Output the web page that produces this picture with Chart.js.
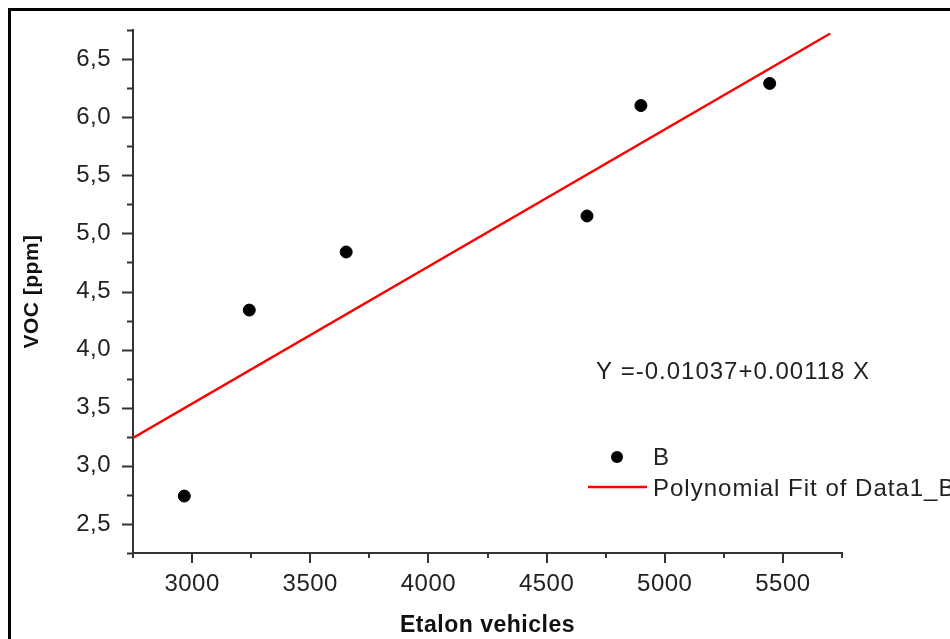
<!DOCTYPE html>
<html>
<head>
<meta charset="utf-8">
<script src="https://cdn.jsdelivr.net/npm/chart.js@4/dist/chart.umd.min.js"></script>
<style>
    html, body { margin: 0; padding: 0; background: #fff; }
    #wrap { width: 950px; height: 639px; position: relative; }
</style>
</head>
<body>
<div id="wrap"><canvas id="chart" width="950" height="639"></canvas></div>
<script>
// measured points (Etalon vehicles vs VOC)
const vehicles = [2967, 3242, 3652, 4671, 4899, 5444];
const voc = [2.74, 4.34, 4.84, 5.15, 6.10, 6.29];
// fitted line end points
const fitX = [2750, 5700];
const fitY = [3.24, 6.72];

const xTitle = "Etalon vehicles";
const yTitle = "VOC [ppm]";
const equation = "Y =-0.01037+0.00118 X";
const legendLabels = ["B", "Polynomial Fit of Data1_B"];

const font = "'Liberation Sans', Arial, sans-serif";

// the original text is a little wider than Liberation Sans, so spread it a bit
const spacing = {
    id: "spacing",
    beforeDraw(chart) { chart.ctx.letterSpacing = "0.5px"; },
    afterDraw(chart) { chart.ctx.letterSpacing = "0px"; }
};

// frame + tick marks + equation + legend
const extras = {
    id: "extras",
    afterDraw(chart) {
        const ctx = chart.ctx;
        const area = chart.chartArea;
        const xs = chart.scales.x;
        const ys = chart.scales.y;
        ctx.save();

        // outer frame (only top and left visible)
        ctx.strokeStyle = "#000";
        ctx.lineWidth = 3;
        ctx.beginPath();
        ctx.moveTo(9.5, 639);
        ctx.lineTo(9.5, 9.5);
        ctx.lineTo(950, 9.5);
        ctx.stroke();

        // tick marks
        ctx.strokeStyle = "#333";
        ctx.lineWidth = 2;
        ctx.beginPath();
        ys.ticks.forEach(t => {
            const py = Math.round(ys.getPixelForValue(t.value)) + 0.5;
            const major = Math.abs(t.value * 2 - Math.round(t.value * 2)) < 1e-6;
            ctx.moveTo(area.left, py);
            ctx.lineTo(area.left - (major ? 11 : 6), py);
        });
        xs.ticks.forEach(t => {
            const px = Math.round(xs.getPixelForValue(t.value));
            const major = t.value % 500 === 0;
            ctx.moveTo(px, area.bottom);
            ctx.lineTo(px, area.bottom + (major ? 10 : 5));
        });
        ctx.stroke();

        // equation
        ctx.letterSpacing = "1px";
        ctx.fillStyle = "#222";
        ctx.font = "24px " + font;
        ctx.textBaseline = "middle";
        ctx.textAlign = "left";
        ctx.fillText(equation, area.left + 463, 372);

        // legend
        ctx.fillStyle = "#000";
        ctx.beginPath();
        ctx.arc(617, 457, 6, 0, Math.PI * 2);
        ctx.fill();
        ctx.fillStyle = "#222";
        ctx.fillText(legendLabels[0], 653, 458);
        ctx.strokeStyle = "#ff0000";
        ctx.lineWidth = 2.5;
        ctx.beginPath();
        ctx.moveTo(588, 487);
        ctx.lineTo(647, 487);
        ctx.stroke();
        ctx.fillText(legendLabels[1], 653, 489);
        ctx.restore();
    }
};

new Chart(document.getElementById("chart"), {
    type: "scatter",
    data: {
        datasets: [{
            label: legendLabels[0],
            data: vehicles.map((v, i) => ({ x: v, y: voc[i] })),
            backgroundColor: "#000",
            borderColor: "#000",
            pointRadius: 6,
            pointHoverRadius: 6,
            order: 1
        }, {
            label: legendLabels[1],
            type: "line",
            data: fitX.map((v, i) => ({ x: v, y: fitY[i] })),
            borderColor: "#ff0000",
            borderWidth: 2.5,
            pointRadius: 0,
            fill: false,
            order: 2
        }]
    },
    options: {
        responsive: false,
        animation: false,
        layout: { padding: { top: 30, right: 108, left: 0, bottom: 0 } },
        plugins: {
            legend: { display: false },
            tooltip: { enabled: false }
        },
        scales: {
            x: {
                type: "linear",
                min: 2750,
                max: 5750,
                afterFit: s => { s.height = 86; },
                grid: { display: true, drawOnChartArea: false, color: "transparent", tickLength: 10 },
                border: { display: true, color: "#333", width: 2 },
                ticks: {
                    stepSize: 250,
                    autoSkip: false,
                    maxRotation: 0,
                    padding: 7,
                    color: "#222",
                    font: { family: font, size: 24 },
                    callback: v => (v % 500 === 0 ? String(v) : "")
                },
                title: {
                    display: true,
                    text: xTitle,
                    color: "#111",
                    font: { family: font, size: 23, weight: "bold" },
                    padding: { top: 6, bottom: 0 }
                }
            },
            y: {
                type: "linear",
                min: 2.25,
                max: 6.75,
                afterFit: s => { s.width = 133; },
                grid: { display: true, drawOnChartArea: false, color: "transparent", tickLength: 11 },
                border: { display: true, color: "#333", width: 2 },
                ticks: {
                    stepSize: 0.25,
                    autoSkip: false,
                    padding: 11,
                    color: "#222",
                    font: { family: font, size: 24 },
                    callback: v => {
                        const m = Math.abs(v * 2 - Math.round(v * 2)) < 1e-6;
                        return m && v >= 2.5 && v <= 6.5 ? v.toFixed(1).replace(".", ",") : "";
                    }
                },
                title: {
                    display: true,
                    text: yTitle,
                    color: "#111",
                    font: { family: font, size: 21, weight: "bold" },
                    padding: { top: 20, bottom: 0 }
                }
            }
        }
    },
    plugins: [spacing, extras]
});
</script>
</body>
</html>
